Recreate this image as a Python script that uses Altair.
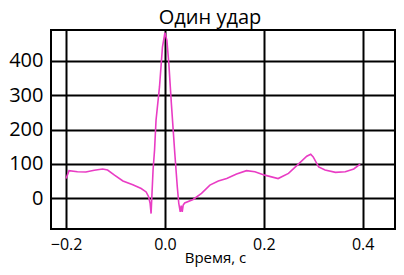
import altair as alt
import pandas as pd

time_s = [-0.200, -0.194, -0.177, -0.160, -0.143, -0.126, -0.116, -0.102, -0.085,
          -0.065, -0.048, -0.038, -0.033, -0.030, -0.028, -0.024, -0.021, -0.018,
          -0.011, -0.005, 0.000, 0.004, 0.008, 0.013, 0.020, 0.025, 0.028, 0.031,
          0.033, 0.035, 0.037, 0.040, 0.057, 0.074, 0.091, 0.108, 0.125, 0.145,
          0.165, 0.182, 0.202, 0.229, 0.250, 0.270, 0.287, 0.295, 0.300, 0.311,
          0.324, 0.345, 0.365, 0.382, 0.395]
value = [57, 80, 77, 76, 81, 85, 82, 67, 50,
         39, 28, 18, 4, -15, -45, 82, 140, 227,
         324, 440, 482, 460, 390, 276, 130, 33, -15, -40,
         -22, -40, -20, -14, -4, 14, 38, 50, 57, 70,
         80, 77, 67, 57, 72, 99, 122, 128, 120, 91,
         82, 75, 77, 85, 99]

x_ticks = [-0.2, 0.0, 0.2, 0.4]
y_ticks = [0, 100, 200, 300, 400]

df = pd.DataFrame({"t": time_s, "v": value})

FONT = "Open Sans"

chart = alt.Chart(df).mark_line(color="#e93cc4", strokeWidth=1.6).encode(
    x=alt.X("t:Q",
            scale=alt.Scale(domain=[-0.2305, 0.4655], nice=False, zero=False),
            axis=alt.Axis(values=x_ticks, format=".1f", title="Время, с",
                          ticks=False, domain=False, grid=True,
                          gridColor="black", gridWidth=2, gridOpacity=1,
                          labelFont=FONT, labelFontSize=16, labelColor="black",
                          labelPadding=7, labelFlush=False,
                          titleFont=FONT, titleFontSize=15, titleFontWeight="normal",
                          titleColor="black", titleX=164, titleY=33,
                          titleBaseline="alphabetic")),
    y=alt.Y("v:Q",
            scale=alt.Scale(domain=[-90, 490], nice=False, zero=False),
            axis=alt.Axis(values=y_ticks, title=None,
                          ticks=False, domain=False, grid=True,
                          gridColor="black", gridWidth=2, gridOpacity=1,
                          labelFont=FONT, labelFontSize=20, labelColor="black",
                          labelPadding=8, labelFlush=False)),
).properties(
    width=344,
    height=199,
    background="white",
    title=alt.TitleParams("Один удар", font=FONT, fontSize=20, fontWeight="normal",
                          color="black", anchor="middle", dx=-13, offset=2),
    autosize=alt.AutoSizeParams(type="none"),
    padding={"left": 43, "top": 22, "right": 1, "bottom": 38},
).configure_view(
    stroke="black", strokeWidth=2
)

chart.save("out.html", embed_options={"renderer": "svg", "actions": False})
